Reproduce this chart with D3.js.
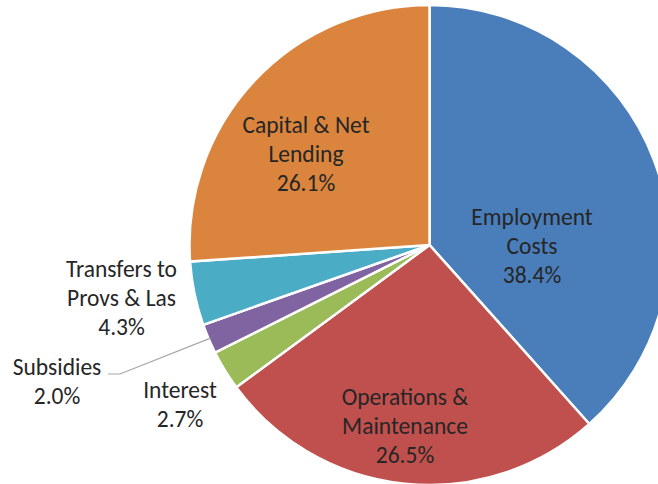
<!DOCTYPE html>
<html><head><meta charset="utf-8">
<script src="https://cdn.jsdelivr.net/npm/d3@7/dist/d3.min.js"></script>
<style>html,body{margin:0;padding:0;background:#fff;}svg{display:block;}</style>
</head><body>
<svg id="chart" width="658" height="484"></svg>
<script>
const categories = ["Employment Costs", "Operations & Maintenance", "Interest", "Subsidies", "Transfers to Provs & Las", "Capital & Net Lending"];
const values = [38.4, 26.5, 2.7, 2.0, 4.3, 26.1];
const labelLines = [["Employment", "Costs"], ["Operations &", "Maintenance"], ["Interest"], ["Subsidies"], ["Transfers to", "Provs & Las"], ["Capital & Net", "Lending"]];
const colors = ["#4A7EBB", "#C0504D", "#9BBB59", "#8064A2", "#4BACC6", "#DB843D"];

// layout
const cx = 429.5, cy = 245, R = 240;
const labelPos = [[532, 225], [405, 405], [180, 398], [57, 375], [121.5, 277], [306, 133]];
const lineH = 29.2;

const svg = d3.select("#chart");
const g = svg.append("g").attr("transform", `translate(${cx},${cy})`);
const pie = d3.pie().sort(null).value(d => d)(values);
const arc = d3.arc().innerRadius(0).outerRadius(R);

g.selectAll("path").data(pie).enter().append("path")
  .attr("d", arc)
  .attr("fill", (d, i) => colors[i])
  .attr("stroke", "#fff").attr("stroke-width", 2.5).attr("stroke-linejoin", "miter");

// leader line for Subsidies
const sub = pie[3];
const ang = (sub.startAngle + sub.endAngle) / 2;
const px = cx + Math.sin(ang) * (R - 2), py = cy - Math.cos(ang) * (R - 2);
svg.append("polyline")
  .attr("points", `${108},${374} ${120},${374} ${px},${py}`)
  .attr("fill", "none").attr("stroke", "#a6a6a6").attr("stroke-width", 1.2);

const font = "Carlito, Calibri, Lato, sans-serif";
labelLines.forEach((lines, i) => {
  const all = lines.concat([values[i].toFixed(1) + "%"]);
  const t = svg.append("text")
    .attr("text-anchor", "middle")
    .attr("font-family", font)
    .attr("font-size", 23.5)
    .attr("fill", "#262626");
  all.forEach((s, k) => {
    t.append("tspan").attr("x", labelPos[i][0]).attr("y", labelPos[i][1] + k * lineH).text(s);
  });
});
</script>
</body></html>
